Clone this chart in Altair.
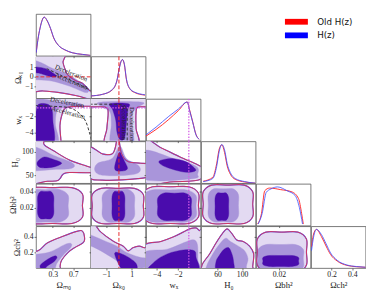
import altair as alt
import pandas as pd

W, H = 56.6, 43.3
FONT = "Liberation Serif"

TITLES = ["Ωₘ₀", "Ωₖ₀", "wₓ", "H₀", "Ωbh²", "Ωch²"]
DOMAINS = [[-0.03, 1.04], [-2.2, 2.1], [-5.0, 0.1], [33, 122], [-0.001, 0.049], [0, 0.53]]
XTICKS = [[0.3, 0.7], [-1, 1], [-4, -2], [60, 100], [0.02], [0.2, 0.4]]
YTICKS = [[], [-1, 0, 1], [-4, -2], [50, 100], [0.02, 0.04], [0.2, 0.4]]
FORMATS = [".1f", "d", "d", "d", ".2f", ".1f"]

FILLS = ["#e3daf2", "#a995da", "#4a0cad"]
RED = "#ff3030"
BLUE = "#4050ff"

# ---------- 1D marginals ----------
OM_X = [-0.025, 0.005, 0.05, 0.09, 0.13, 0.19, 0.255, 0.317, 0.41, 0.537, 0.69, 0.88, 1.03]
OM_BLUE = [0.08, 0.39, 0.71, 0.91, 1.0, 0.91, 0.71, 0.47, 0.27, 0.155, 0.076, 0.036, 0.01]
OM_RED = [0.09, 0.40, 0.72, 0.92, 1.0, 0.90, 0.70, 0.46, 0.27, 0.15, 0.075, 0.035, 0.01]

OK_X = [-2.2, -1.3, -0.54, -0.16, 0.01, 0.16, 0.27, 0.42, 0.59, 0.84, 1.22, 2.05]
OK_BLUE = [0.06, 0.10, 0.22, 0.46, 0.74, 0.94, 1.0, 0.90, 0.50, 0.26, 0.16, 0.09]
OK_RED = [0.06, 0.10, 0.21, 0.45, 0.75, 0.95, 1.0, 0.88, 0.48, 0.25, 0.15, 0.08]

WX_X = [-5.0, -4.06, -2.87, -1.97, -1.15, -0.93, -0.63, -0.33, -0.03]
WX_BLUE = [0.15, 0.35, 0.63, 0.82, 1.0, 0.78, 0.47, 0.15, 0.035]
WX_RED = [0.12, 0.29, 0.55, 0.78, 1.0, 0.80, 0.48, 0.16, 0.035]

H0_X = [36.6, 52.2, 58.5, 62.7, 66.9, 72.0, 75.6, 80.9, 88.7, 104.3, 121.5]
H0_BLUE = [0.04, 0.12, 0.43, 0.82, 1.0, 0.82, 0.51, 0.27, 0.12, 0.04, 0.0]
H0_RED = [0.05, 0.15, 0.50, 0.88, 0.99, 0.75, 0.45, 0.23, 0.10, 0.03, 0.0]

OB_X_BLUE = [0.001, 0.0046, 0.0084, 0.0128, 0.0187, 0.0275, 0.0348, 0.0387, 0.0416]
OB_BLUE = [0.04, 0.31, 0.86, 0.95, 1.0, 0.90, 0.78, 0.47, 0.04]
OB_X_RED = [0.0004, 0.004, 0.007, 0.0114, 0.0216, 0.032, 0.0379, 0.0408, 0.0423]
OB_RED = [0.04, 0.31, 0.90, 0.97, 0.93, 0.87, 0.70, 0.31, 0.04]

OC_X = [0.005, 0.025, 0.053, 0.10, 0.146, 0.19, 0.255, 0.348, 0.44, 0.53]
OC_BLUE = [0.45, 0.80, 1.0, 0.87, 0.63, 0.39, 0.20, 0.08, 0.04, 0.02]
OC_RED = [0.55, 0.88, 1.0, 0.82, 0.57, 0.35, 0.18, 0.07, 0.035, 0.02]

# ---------- 2D contours (outer, middle, inner) ----------
OK_OM_3 = [(-0.3, 2.6), (0.49, 2.6), (0.5, 1.5), (0.54, 0.8), (0.6, 0.15), (0.75, -0.4),
           (0.88, -0.65), (1.0, -1.3), (1.1, -1.9), (1.1, -2.4), (0.77, -1.95), (0.4, -1.6),
           (0.1, -1.45), (-0.3, -1.35)]
OK_OM_2 = [(-0.3, 1.7), (0.0, 1.6), (0.3, 0.85), (0.62, 0.2), (0.93, -0.9), (1.0, -1.4),
           (0.93, -1.6), (0.62, -0.95), (0.3, -0.45), (0.0, -0.3), (-0.3, -0.3)]
OK_OM_1 = [(-0.3, 1.15), (0.0, 1.0), (0.15, 0.85), (0.3, 0.4), (0.37, 0.1), (0.3, -0.02),
           (0.12, 0.25), (0.0, 0.4), (-0.3, 0.55)]

WX_OM_3 = [(-0.3, 0.5), (1.2, 0.5), (1.2, -0.68), (0.77, -0.8), (0.55, -1.0), (0.48, -1.8),
           (0.44, -3.15), (0.46, -5.05), (0.46, -5.5), (-0.3, -5.5)]
WX_OM_2 = [(-0.3, -0.15), (0.5, -0.3), (0.85, -0.5), (0.8, -0.85), (0.45, -1.0), (0.37, -1.6),
           (0.35, -3.0), (0.37, -5.5), (-0.3, -5.5)]
WX_OM_1 = [(0.02, -0.55), (0.2, -0.55), (0.28, -1.2), (0.3, -2.5), (0.29, -5.5), (-0.3, -5.5),
           (-0.1, -3.0), (-0.03, -1.5)]

WX_OK_3 = [(-2.5, 0.5), (2.4, 0.5), (2.4, -0.75), (1.5, -0.9), (1.35, -1.5), (1.35, -3.5),
           (1.45, -5.5), (-1.0, -5.5), (-0.95, -3.5), (-0.85, -1.5), (-1.1, -0.9), (-2.5, -0.75)]
WX_OK_2 = [(-1.5, -0.3), (1.8, -0.3), (1.5, -0.9), (1.1, -1.5), (1.0, -3.0), (1.1, -5.5),
           (-0.6, -5.5), (-0.6, -3.0), (-0.7, -1.5), (-1.3, -0.9)]
WX_OK_1 = [(-0.7, -0.5), (0.75, -0.5), (0.7, -1.2), (0.6, -2.5), (0.45, -4.6), (0.1, -4.9),
           (-0.15, -4.0), (-0.25, -2.5), (-0.5, -1.2)]

H0_OM_3 = [(-0.3, 130), (0.1, 130), (0.13, 115), (0.317, 101.8), (0.63, 82), (0.97, 69),
           (1.1, 64), (1.1, 55.7), (0.63, 55.7), (0.505, 52.4), (0.44, 42.5), (0.38, 38),
           (0.2, 37), (-0.3, 37)]
H0_OM_2 = [(-0.3, 109), (0.0, 108.5), (0.317, 92), (0.63, 78.9), (0.725, 70.2), (0.63, 63.6),
           (0.317, 62.3), (0.0, 59.5), (-0.3, 59.1)]
H0_OM_1 = [(0.004, 78.9), (0.13, 88.8), (0.317, 83.4), (0.473, 75.5), (0.317, 67.6),
           (0.098, 65.6), (0.004, 70.2)]

H0_OK_3 = [(-2.4, 108.5), (-1.3, 95.3), (-0.54, 95.3), (-0.29, 108.5), (-0.16, 125), (0.0, 125),
           (0.21, 95.3), (0.72, 78.9), (1.72, 75.5), (2.3, 72.2), (2.3, 49.2), (1.47, 42.5),
           (-1.3, 39.3), (-2.4, 49.2)]
H0_OK_2 = [(0.08, 111.7), (0.59, 85.4), (1.57, 69.6), (1.57, 55.7), (0.59, 49.8), (-1.3, 49.8),
           (-1.9, 59.7), (-1.67, 75.5), (-0.54, 85.4)]
H0_OK_1 = [(0.08, 98.7), (0.44, 79.5), (0.67, 63.6), (0.21, 58.7), (-0.31, 61.7), (-0.24, 79.5)]

H0_WX_3 = [(-5.3, 125), (-3.61, 108.5), (-1.82, 88.8), (-0.18, 72.2), (0.3, 64), (0.3, 49.2),
           (-0.18, 39.3), (-2.42, 36), (-5.3, 37.3)]
H0_WX_2 = [(-5.3, 101.8), (-2.42, 85.4), (-0.33, 69), (-0.18, 52.4), (-0.63, 42.5), (-5.3, 42.5)]
H0_WX_1 = [(-3.8, 79), (-3.2, 84), (-2.4, 85), (-1.3, 79), (-0.5, 66), (-0.4, 59), (-1.2, 56),
           (-2.3, 61), (-3.4, 70)]

# rounded boxes: [x0, x1, y0, y1] for outer, middle, inner
OB_OM_EDGES = [[-0.3, 0.88, 0.0015, 0.0444], [-0.3, 0.6, 0.0033, 0.042], [0.004, 0.317, 0.0073, 0.0398]]
OB_OK_EDGES = [[-2.1, 1.92, 0.0015, 0.0436], [-1.3, 1.22, 0.0033, 0.042], [-0.54, 0.46, 0.0053, 0.0398]]
OB_WX_EDGES = [[-5.3, -0.1, 0.0015, 0.0455], [-5.3, -0.33, 0.0033, 0.0417], [-3.9, -0.78, 0.0053, 0.0378]]
OB_H0_EDGES = [[36.6, 117.3, 0.0015, 0.0475], [45.0, 94.0, 0.0035, 0.043], [56.0, 78.0, 0.0055, 0.038]]
OC_OB_EDGES = [[0.0002, 0.0452, -0.05, 0.456], [0.001, 0.0423, -0.05, 0.298], [0.0054, 0.0379, 0.02, 0.159]]

OC_OM_3 = [(-0.3, 0.2), (0.004, 0.218), (0.19, 0.318), (0.473, 0.397), (0.786, 0.468), (0.88, 0.468),
           (0.92, 0.397), (0.9, 0.325), (0.725, 0.258), (0.6, 0.199), (0.473, 0.099), (0.443, 0.02),
           (0.44, -0.1), (-0.3, -0.1)]
OC_OM_2 = [(-0.3, 0.13), (0.22, 0.2), (0.54, 0.3), (0.66, 0.31), (0.65, 0.26), (0.5, 0.16),
           (0.38, 0.06), (0.25, -0.1), (-0.3, -0.1)]
OC_OM_1 = [(0.05, 0.03), (0.15, 0.09), (0.25, 0.13), (0.35, 0.155), (0.38, 0.13), (0.32, 0.08),
           (0.2, 0.03), (0.1, -0.03)]

OC_OK_3 = [(-2.5, 0.6), (-1.9, 0.55), (-1.42, 0.456), (-0.41, 0.337), (0.34, 0.278), (0.72, 0.218),
           (1.1, 0.258), (1.59, 0.278), (1.99, 0.258), (2.4, 0.25), (2.4, -0.1), (-2.5, -0.1)]
OC_OK_2 = [(-2.5, 0.43), (-2.18, 0.417), (-1.2, 0.35), (-0.16, 0.278), (0.59, 0.199), (1.59, 0.139),
           (2.4, 0.11), (2.4, 0.01), (0.59, 0.02), (-0.41, 0.119), (-1.42, 0.218), (-2.18, 0.278),
           (-2.5, 0.28)]
OC_OK_1 = [(-0.29, 0.199), (0.59, 0.151), (1.34, 0.06), (1.34, -0.03), (0.34, -0.03), (-0.16, 0.099)]

OC_WX_3 = [(-5.3, 0.27), (-3.61, 0.337), (-2.42, 0.397), (-1.53, 0.456), (-0.93, 0.497),
           (-0.33, 0.509), (-0.03, 0.476), (0.3, 0.45), (0.3, -0.1), (-5.3, -0.1)]
OC_WX_2 = [(-5.3, 0.19), (-3.0, 0.24), (-1.5, 0.32), (-0.6, 0.36), (-0.2, 0.3), (-0.15, 0.1),
           (-0.1, -0.1), (-5.3, -0.1)]
OC_WX_1 = [(-4.6, -0.05), (-4.2, 0.08), (-3.0, 0.18), (-1.5, 0.23), (-0.5, 0.22), (-0.33, 0.14),
           (-0.35, -0.05)]

OC_H0_3 = [(34.1, 0.02), (37.6, 0.08), (47.0, 0.179), (57.5, 0.318), (67.8, 0.437), (75.6, 0.497),
           (83.4, 0.437), (91.2, 0.357), (101.7, 0.337), (112.1, 0.278), (118.9, 0.179),
           (117.3, 0.02), (117.0, -0.1), (34.0, -0.1)]
OC_H0_2 = [(41.9, 0.02), (52.2, 0.179), (62.7, 0.298), (73.1, 0.378), (80.9, 0.337), (93.9, 0.278),
           (104.3, 0.218), (109.5, 0.119), (106.9, 0.02), (106.0, -0.1), (42.0, -0.1)]
OC_H0_1 = [(57.5, 0.08), (62.7, 0.159), (70.5, 0.238), (78.3, 0.258), (83.4, 0.179), (86.1, 0.08),
           (85.0, -0.03), (59.0, -0.03)]

# deceleration / acceleration boundary curves
DEC_OK_OM_X = [0.18, 0.5, 0.8, 1.06]
DEC_OK_OM_Y = [0.85, 0.05, -0.75, -1.45]
DEC_WX_OM_X = [-0.05, 0.3, 0.63, 0.82, 0.94, 1.02, 1.06]
DEC_WX_OM_Y = [-0.7, -0.8, -0.99, -1.66, -2.59, -4.08, -5.2]
DEC_WX_OK_X = [-2.3, -0.6, 0.3, 0.6, 0.65, 0.65]
DEC_WX_OK_Y = [-0.55, -0.55, -0.65, -1.0, -2.0, -5.2]

DEC_TEXT_PANEL = [(1, 0), (1, 0), (2, 0), (2, 0), (2, 1), (2, 1)]
DEC_TEXT_LABEL = ["Deceleration", "Acceleration"] * 3
DEC_TEXT_X = [0.66, 0.66, 0.58, 0.6, 1.0, 0.36]
DEC_TEXT_Y = [0.38, -0.47, -0.35, -1.6, -3.0, -2.8]
DEC_TEXT_ANGLE = [22, 22, 12, 15, 90, 90]

OK_REF = 0.0
WX_REF = -1.0

LEG_LABELS = ["Old H(z)", "H(z)"]
LEG_COLORS = ["#ff0000", "#0000ff"]


def rbox(e, r=0.35):
    x0, x1, y0, y1 = e
    rx = (x1 - x0) * r / 2
    ry = (y1 - y0) * r / 2
    xm = (x0 + x1) / 2
    ym = (y0 + y1) / 2
    return [(x0 + rx, y1), (xm, y1), (x1 - rx, y1), (x1, y1 - ry), (x1, ym), (x1, y0 + ry),
            (x1 - rx, y0), (xm, y0), (x0 + rx, y0), (x0, y0 + ry), (x0, ym), (x0, y1 - ry)]


PAIRS = {
    (1, 0): (OK_OM_3, OK_OM_2, OK_OM_1),
    (2, 0): (WX_OM_3, WX_OM_2, WX_OM_1),
    (2, 1): (WX_OK_3, WX_OK_2, WX_OK_1),
    (3, 0): (H0_OM_3, H0_OM_2, H0_OM_1),
    (3, 1): (H0_OK_3, H0_OK_2, H0_OK_1),
    (3, 2): (H0_WX_3, H0_WX_2, H0_WX_1),
    (4, 0): tuple(rbox(e) for e in OB_OM_EDGES),
    (4, 1): tuple(rbox(e) for e in OB_OK_EDGES),
    (4, 2): tuple(rbox(e) for e in OB_WX_EDGES),
    (4, 3): tuple(rbox(e) for e in OB_H0_EDGES),
    (5, 0): (OC_OM_3, OC_OM_2, OC_OM_1),
    (5, 1): (OC_OK_3, OC_OK_2, OC_OK_1),
    (5, 2): (OC_WX_3, OC_WX_2, OC_WX_1),
    (5, 3): (OC_H0_3, OC_H0_2, OC_H0_1),
    (5, 4): tuple(rbox(e) for e in OC_OB_EDGES),
}

DEC_CURVES = {
    (1, 0): (DEC_OK_OM_X, DEC_OK_OM_Y),
    (2, 0): (DEC_WX_OM_X, DEC_WX_OM_Y),
    (2, 1): (DEC_WX_OK_X, DEC_WX_OK_Y),
}

MARGINALS = [
    ((OM_X, OM_BLUE), (OM_X, OM_RED)),
    ((OK_X, OK_BLUE), (OK_X, OK_RED)),
    ((WX_X, WX_BLUE), (WX_X, WX_RED)),
    ((H0_X, H0_BLUE), (H0_X, H0_RED)),
    ((OB_X_BLUE, OB_BLUE), (OB_X_RED, OB_RED)),
    ((OC_X, OC_BLUE), (OC_X, OC_RED)),
]


def xenc(c, r):
    bottom = r == 5
    ax = alt.Axis(values=XTICKS[c], format=FORMATS[c], labels=bottom, ticks=True, tickSize=2,
                  title=TITLES[c] if bottom else None, grid=False, domain=False)
    return alt.X("x:Q", scale=alt.Scale(domain=DOMAINS[c], nice=False, zero=False), axis=ax)


def yenc(r, c):
    left = c == 0
    ax = alt.Axis(values=YTICKS[r], format=FORMATS[r], labels=left, ticks=True, tickSize=2,
                  title=TITLES[r] if left else None, grid=False, domain=False)
    return alt.Y("y:Q", scale=alt.Scale(domain=DOMAINS[r], nice=False, zero=False), axis=ax)


def polygon(pts, xe, ye, fill):
    df = pd.DataFrame({"x": [p[0] for p in pts], "y": [p[1] for p in pts], "o": list(range(len(pts)))})
    return alt.Chart(df).mark_line(interpolate="cardinal-closed", fill=fill, stroke=fill,
                                   strokeWidth=0.4, clip=True).encode(x=xe, y=ye, order="o:Q")


def outline(pts, xe, ye, color, sw):
    df = pd.DataFrame({"x": [p[0] for p in pts], "y": [p[1] for p in pts], "o": list(range(len(pts)))})
    return alt.Chart(df).mark_line(interpolate="cardinal-closed", color=color,
                                   strokeWidth=sw, clip=True).encode(x=xe, y=ye, order="o:Q")


def ref_layers(r, c, xe, ye):
    out = []
    if c == 1:
        out.append(alt.Chart(pd.DataFrame({"x": [OK_REF]})).mark_rule(
            color="#e8262a", strokeDash=[4, 2], strokeWidth=1).encode(x=xe))
    if c == 2:
        out.append(alt.Chart(pd.DataFrame({"x": [WX_REF]})).mark_rule(
            color="#d45ee6", strokeDash=[1.5, 1.5], strokeWidth=1.3).encode(x=xe))
    if r == 1 and c < 1:
        out.append(alt.Chart(pd.DataFrame({"y": [OK_REF]})).mark_rule(
            color="#e8262a", strokeDash=[4, 2], strokeWidth=1).encode(y=ye))
    if r == 2 and c < 2:
        out.append(alt.Chart(pd.DataFrame({"y": [WX_REF]})).mark_rule(
            color="#d45ee6", strokeDash=[1.5, 1.5], strokeWidth=1.3).encode(y=ye))
    return out


def pair_panel(r, c):
    xe, ye = xenc(c, r), yenc(r, c)
    light, medium, dark = PAIRS[(r, c)]
    layers = [polygon(light, xe, ye, FILLS[0]), polygon(medium, xe, ye, FILLS[1]),
              polygon(dark, xe, ye, FILLS[2]),
              outline(light, xe, ye, BLUE, 1.2), outline(light, xe, ye, RED, 0.8)]
    layers += ref_layers(r, c, xe, ye)
    if (r, c) in DEC_CURVES:
        dx, dy = DEC_CURVES[(r, c)]
        df = pd.DataFrame({"x": dx, "y": dy, "o": list(range(len(dx)))})
        layers.append(alt.Chart(df).mark_line(interpolate="cardinal", color="#333333",
                                              strokeDash=[3, 2], strokeWidth=1, clip=True)
                      .encode(x=xe, y=ye, order="o:Q"))
        rows = [i for i, p in enumerate(DEC_TEXT_PANEL) if p == (r, c)]
        for i in rows:
            tdf = pd.DataFrame({"x": [DEC_TEXT_X[i]], "y": [DEC_TEXT_Y[i]], "t": [DEC_TEXT_LABEL[i]]})
            layers.append(alt.Chart(tdf).mark_text(angle=DEC_TEXT_ANGLE[i], fontSize=7, font=FONT,
                                                   color="#222222")
                          .encode(x=xe, y=ye, text="t:N"))
    return alt.layer(*layers).properties(width=W, height=H)


def diag_panel(i):
    xe = xenc(i, i)
    ye = alt.Y("y:Q", scale=alt.Scale(domain=[0, 1.08], nice=False, zero=False), axis=None)
    (bx, by), (rx, ry) = MARGINALS[i]
    layers = [
        alt.Chart(pd.DataFrame({"x": rx, "y": ry})).mark_line(
            interpolate="monotone", color=RED, strokeWidth=1, clip=True).encode(x=xe, y=ye),
        alt.Chart(pd.DataFrame({"x": bx, "y": by})).mark_line(
            interpolate="monotone", color=BLUE, strokeWidth=1, opacity=0.85, clip=True).encode(x=xe, y=ye),
    ]
    layers += ref_layers(i, i, xe, ye)
    return alt.layer(*layers).properties(width=W, height=H)


def empty_cell():
    return alt.Chart(pd.DataFrame({"x": [0], "y": [0]})).mark_point(opacity=0).encode(
        x=alt.X("x:Q", axis=None), y=alt.Y("y:Q", axis=None)
    ).properties(width=W, height=H, view=alt.ViewBackground(stroke="transparent"))


def legend_cell():
    df = pd.DataFrame({"label": LEG_LABELS, "color": LEG_COLORS, "row": [0, 1],
                       "x0": [0.53, 0.53], "x1": [0.95, 0.95], "xt": [1.12, 1.12]})
    xs = alt.Scale(domain=[0, 1], nice=False, zero=False)
    ys = alt.Scale(domain=[-0.571, 2.5], nice=False, zero=False, reverse=True)
    bars = alt.Chart(df).mark_rule(strokeWidth=6).encode(
        x=alt.X("x0:Q", scale=xs, axis=None), x2="x1:Q",
        y=alt.Y("row:Q", scale=ys, axis=None), color=alt.Color("color:N", scale=None))
    texts = alt.Chart(df).mark_text(align="left", baseline="middle", fontSize=9,
                                    font="DejaVu Sans", color="#111111").encode(
        x=alt.X("xt:Q", scale=xs, axis=None), y=alt.Y("row:Q", scale=ys, axis=None), text="label:N")
    return alt.layer(bars, texts).properties(width=W, height=H,
                                             view=alt.ViewBackground(stroke="transparent"))


cells = []
for r in range(6):
    for c in range(6):
        if c > r:
            cells.append(legend_cell() if (r, c) == (0, 4) else empty_cell())
        elif c == r:
            cells.append(diag_panel(r))
        else:
            cells.append(pair_panel(r, c))

chart = alt.concat(*cells, columns=6, spacing=0, bounds="flush").properties(
    padding=0, background="white"
).configure_view(stroke="#555555", strokeWidth=0.8).configure_axis(
    labelFont=FONT, titleFont=FONT, labelFontSize=8, titleFontSize=9, titleFontWeight="normal",
    labelColor="#222222", titleColor="#222222", tickColor="#333333", tickWidth=0.7,
    labelPadding=1, titlePadding=2
)

chart.save("out.html", embed_options={"renderer": "svg", "actions": False})
